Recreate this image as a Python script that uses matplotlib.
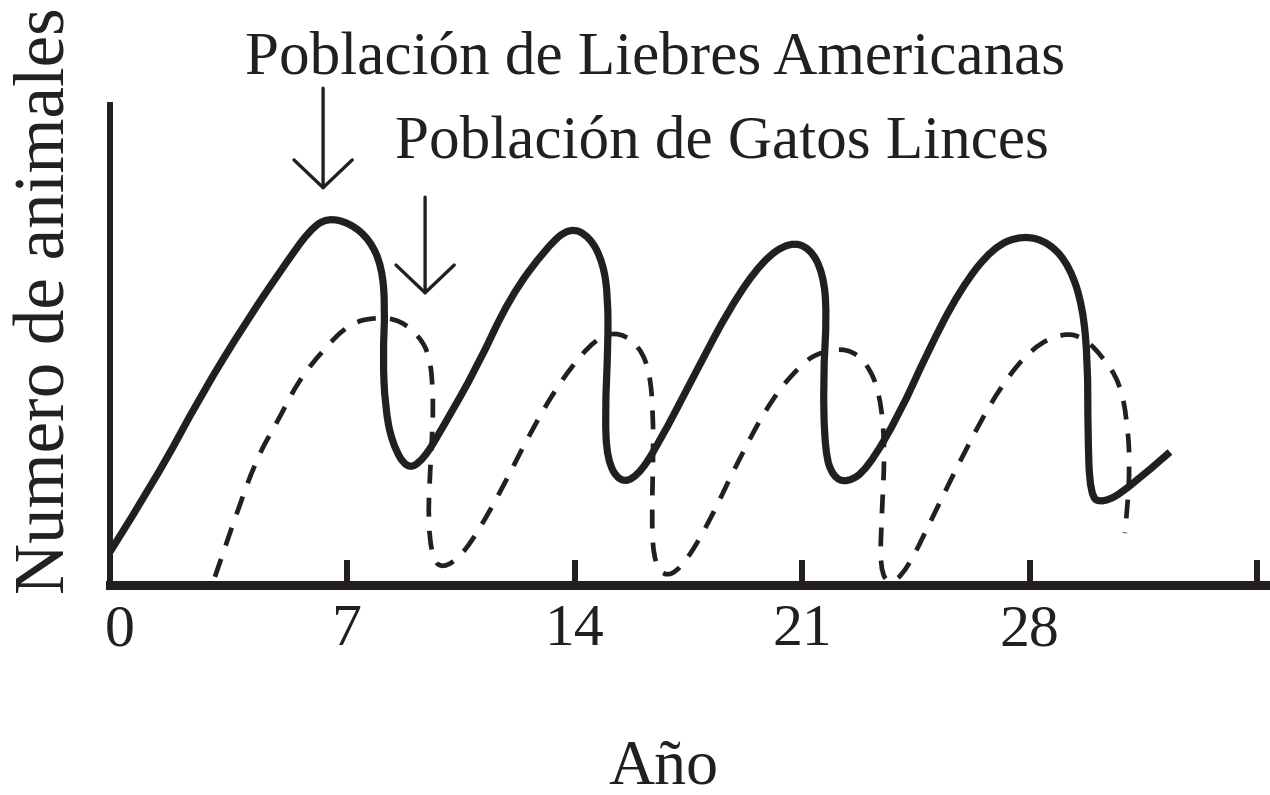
import matplotlib
matplotlib.use("Agg")
import matplotlib.pyplot as plt
from matplotlib.path import Path
from matplotlib.patches import PathPatch

plt.rcParams["font.family"] = ["Liberation Serif", "DejaVu Serif"]

# ------------------------------------------------------------
# Data (year, number of animals 0-100)
# ------------------------------------------------------------

# Hare population (solid line) - the drops curve back a little, so x,y pairs
hare_year = [
    -0.3, 1.14, 2.46, 3.91, 5.23, 5.85, 6.37, 7.08, 7.69, 8.06, 8.16, 8.09,
    8.16, 8.37, 8.83, 9.33, 9.94, 10.99, 12.00, 13.14, 13.85, 14.47, 14.87,
    15.02, 15.02, 14.93, 14.99, 15.39, 15.91, 16.53, 17.76, 18.78, 19.79,
    20.62, 21.24, 21.64, 21.76, 21.64, 21.70, 21.95, 22.38, 22.99, 24.01,
    24.84, 25.85, 26.87, 27.79, 28.62, 29.24, 29.64, 29.79, 29.79, 29.86,
    30.26, 30.99, 32.32
]
hare_count = [
    7.0, 22.5, 39.2, 55.2, 68.3, 74.0, 76.5, 75.4, 71.9, 66.3, 57.9, 47.5,
    37.1, 29.6, 24.0, 26.0, 32.9, 45.4, 60.0, 70.4, 74.6, 72.5, 67.1,
    60.0, 49.6, 35.8, 26.0, 21.3, 22.5, 28.8, 44.8, 57.9, 67.7,
    71.5, 70.2, 65.0, 56.7, 42.7, 27.5, 22.5, 21.3, 24.0, 35.8,
    48.3, 61.5, 70.4, 72.9, 71.3, 66.3, 57.9, 46.3, 32.3, 18.3,
    17.1, 19.8, 27.7
]

# Lynx population (dashed line)
lynx_year = [
    2.92, 3.48, 4.22, 4.83, 5.45, 6.25, 7.08, 7.91, 8.62, 9.23, 9.54, 9.63,
    9.63, 9.54, 9.48, 9.63, 9.94, 10.46, 10.99, 11.79, 12.62, 13.63, 14.68,
    15.39, 16.00, 16.31, 16.41, 16.41, 16.37, 16.41, 16.71, 17.24, 18.07,
    19.08, 20.10, 21.02, 21.55, 22.38, 22.99, 23.39, 23.55, 23.45, 23.39,
    23.70, 24.22, 25.02, 26.07, 27.09, 28.10, 29.02, 29.64, 30.26, 30.78,
    31.00, 31.09, 31.00, 30.93
]
lynx_count = [
    1.7, 12.9, 26.7, 33.8, 42.1, 49.0, 54.6, 55.8, 55.2, 51.7, 47.5, 40.6,
    33.8, 23.3, 12.9, 5.2, 3.5, 5.8, 10.8, 20.4, 31.7, 43.3, 51.7,
    52.7, 49.6, 44.2, 35.8, 25.4, 15.0, 5.8, 1.7, 3.1, 12.1,
    26.7, 39.2, 46.3, 48.5, 49.4, 46.3, 40.0, 28.8, 15.0, 3.1,
    0.0, 3.1, 14.2, 28.8, 41.3, 49.6, 52.5, 51.7, 47.5, 42.1,
    34.4, 25.4, 15.0, 10.8
]

tick_years = [0, 7, 14, 21, 28, 35]
tick_labels = ["0", "7", "14", "21", "28", ""]

INK = "#231f20"


def smooth_path(xs, ys):
    # quadratic bezier through the midpoints, the read points act as controls
    pts = list(zip(xs, ys))
    verts = [pts[0]]
    codes = [Path.MOVETO]
    for i in range(1, len(pts) - 1):
        mx = (pts[i][0] + pts[i + 1][0]) / 2
        my = (pts[i][1] + pts[i + 1][1]) / 2
        if i == len(pts) - 2:
            mx, my = pts[i + 1]
        verts += [pts[i], (mx, my)]
        codes += [Path.CURVE3, Path.CURVE3]
    return Path(verts, codes)


# ------------------------------------------------------------
# Figure
# ------------------------------------------------------------
W, H = 1270, 795
fig = plt.figure(figsize=(W / 100, H / 100), dpi=100)
ax = fig.add_axes([110 / W, 1 - 585 / H, 1 - 110 / W, (585 - 105) / H])

ax.set_xlim(-0.31, 35.4)
ax.set_ylim(0, 100)

hare = PathPatch(smooth_path(hare_year, hare_count), fill=False,
                 edgecolor=INK, lw=5.2, capstyle="butt", joinstyle="round",
                 clip_on=False)
ax.add_patch(hare)
lynx = PathPatch(smooth_path(lynx_year, lynx_count), fill=False,
                 edgecolor=INK, lw=3.4, linestyle=(0, (4.0, 3.0)),
                 capstyle="butt", clip_on=False)
ax.add_patch(lynx)

# axes look
for side in ["top", "right"]:
    ax.spines[side].set_visible(False)
ax.spines["left"].set_linewidth(4.3)
ax.spines["bottom"].set_linewidth(6.5)
ax.spines["left"].set_color(INK)
ax.spines["bottom"].set_color(INK)

ax.set_yticks([])
ax.set_xticks(tick_years)
ax.set_xticklabels(tick_labels)
ax.tick_params(axis="x", direction="in", length=18, width=4.3,
               color=INK, labelsize=43, labelcolor=INK, pad=14)
ax.xaxis.get_major_ticks()[0].tick1line.set_visible(False)

# arrows pointing at the curves
ax.annotate("", xy=(6.25, 82.3), xytext=(6.25, 103.5),
            arrowprops=dict(arrowstyle="->,head_length=1.0,head_width=1.05",
                            lw=2.4, color=INK, mutation_scale=20,
                            shrinkA=0, shrinkB=0),
            annotation_clip=False)
ax.annotate("", xy=(9.39, 60.4), xytext=(9.39, 80.8),
            arrowprops=dict(arrowstyle="->,head_length=1.0,head_width=1.05",
                            lw=2.4, color=INK, mutation_scale=20,
                            shrinkA=0, shrinkB=0),
            annotation_clip=False)

# labels
fig.text(245 / W, 1 - 73 / H, "Población de Liebres Americanas",
         fontsize=44, ha="left", va="baseline", color=INK)
fig.text(395 / W, 1 - 158 / H, "Población de Gatos Linces",
         fontsize=44, ha="left", va="baseline", color=INK)
fig.text(663 / W, 1 - 783 / H, "Año",
         fontsize=46, ha="center", va="baseline", color=INK)
fig.text(47 / W, 1 - 301 / H, "Numero de animales",
         fontsize=51, ha="center", va="center", rotation=90, color=INK)

fig.savefig("out.png", dpi=100)
